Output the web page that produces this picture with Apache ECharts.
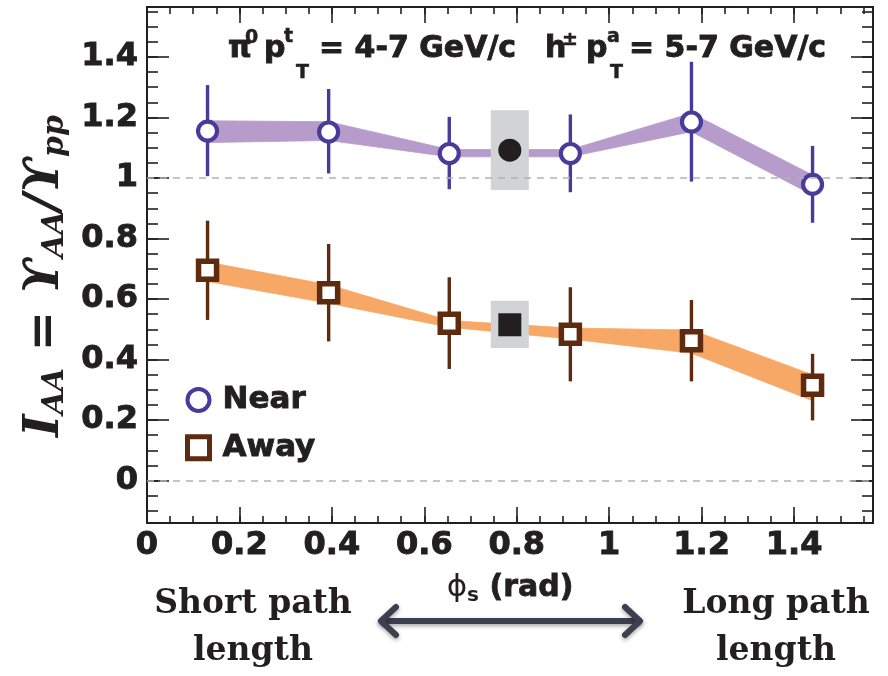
<!DOCTYPE html>
<html>
<head>
<meta charset="utf-8">
<script src="https://cdn.jsdelivr.net/npm/echarts@6/dist/echarts.min.js"></script>
<style>
  html, body { margin: 0; padding: 0; background: #fff; }
  #chart { width: 888px; height: 676px; }
</style>
</head>
<body>
<div id="chart"></div>
<script>
// Bin centres in phi_s (rad)
const phiBins = [0.131, 0.393, 0.654, 0.916, 1.178, 1.440];

// Near-side I_AA with statistical (bars) and systematic (band) limits
const nearIAA    = [1.155, 1.152, 1.081, 1.081, 1.185, 0.979];
const nearStatLo = [1.006, 1.015, 0.963, 0.953, 0.988, 0.852];
const nearStatHi = [1.307, 1.294, 1.202, 1.210, 1.384, 1.106];
const nearSysLo  = [1.117, 1.124, 1.070, 1.070, 1.153, 0.944];
const nearSysHi  = [1.189, 1.186, 1.094, 1.094, 1.214, 1.010];

// Away-side I_AA
const awayIAA    = [0.695, 0.621, 0.520, 0.484, 0.462, 0.315];
const awayStatLo = [0.531, 0.460, 0.369, 0.328, 0.328, 0.199];
const awayStatHi = [0.859, 0.782, 0.672, 0.639, 0.597, 0.419];
const awaySysLo  = [0.658, 0.586, 0.507, 0.468, 0.421, 0.264];
const awaySysHi  = [0.722, 0.647, 0.529, 0.504, 0.498, 0.350];

// Angle-integrated values, plotted at phi_s = pi/4
const inclPhi       = [0.785];
const inclNear      = [1.092];
const inclNearSysLo = [0.960];
const inclNearSysHi = [1.224];
const inclAway      = [0.515];
const inclAwaySysLo = [0.438];
const inclAwaySysHi = [0.594];

// Axis ticks
const xTickLabels = [0, 0.2, 0.4, 0.6, 0.8, 1, 1.2, 1.4];
const yTickLabels = [0, 0.2, 0.4, 0.6, 0.8, 1, 1.2, 1.4];
const refLines = [1, 0];

const X_MIN = 0, X_MAX = Math.PI / 2;
const Y_MIN = -0.14, Y_MAX = 1.565;

const xMinorTicks = [];
for (let k = 1; k <= 31; k++) xMinorTicks.push(+(k * 0.05).toFixed(2));
const yMinorTicks = [];
for (let k = -2; k <= 31; k++) yMinorTicks.push(+(k * 0.05).toFixed(2));

const INK = '#231f20';
const NEAR = '#4a3b9b';
const NEAR_BAND = '#b69bcb';
const AWAY = '#5e2a10';
const AWAY_BAND = '#f8a866';
const BOX = '#d1d3d4';
const TICK_FONT = 'DejaVu Sans';

function xAxisDef(position, ticks, len, withLabels) {
  return {
    type: 'value', position, min: X_MIN, max: X_MAX,
    axisLine: { show: true, onZero: false, lineStyle: { color: INK, width: 2 } },
    axisTick: { show: true, inside: true, length: len, customValues: ticks,
                lineStyle: { color: INK, width: 1.6 } },
    axisLabel: withLabels ? {
      show: true, customValues: ticks, margin: 7,
      fontFamily: TICK_FONT, fontWeight: 'bold', fontSize: 32, color: INK,
      textBorderColor: INK, textBorderWidth: 0.9
    } : { show: false },
    splitLine: { show: false }
  };
}
function yAxisDef(position, ticks, len, withLabels) {
  return {
    type: 'value', position, min: Y_MIN, max: Y_MAX,
    axisLine: { show: true, onZero: false, lineStyle: { color: INK, width: 2 } },
    axisTick: { show: true, inside: true, length: len, customValues: ticks,
                lineStyle: { color: INK, width: 1.6 } },
    axisLabel: withLabels ? {
      show: true, customValues: ticks, margin: 9,
      fontFamily: TICK_FONT, fontWeight: 'bold', fontSize: 32, color: INK,
      textBorderColor: INK, textBorderWidth: 0.9
    } : { show: false },
    splitLine: { show: false }
  };
}

function bandSeries(lo, hi, color, extra) {
  return Object.assign({
    type: 'custom', silent: true, xAxisIndex: 0, yAxisIndex: 0,
    data: phiBins.slice(0, -1).map((x, i) => [x, phiBins[i + 1], lo[i], hi[i], lo[i + 1], hi[i + 1]]),
    encode: { x: [0, 1], y: [2, 3, 4, 5] },
    renderItem(params, api) {
      const x0 = api.value(0), x1 = api.value(1);
      const pts = [
        api.coord([x0, api.value(2)]), api.coord([x1, api.value(4)]),
        api.coord([x1, api.value(5)]), api.coord([x0, api.value(3)])
      ];
      return { type: 'polygon', shape: { points: pts },
               style: { fill: color, stroke: color, lineWidth: 0.8 } };
    }
  }, extra || {});
}

function errorBarSeries(xs, lo, hi, color) {
  return {
    type: 'custom', silent: true, xAxisIndex: 0, yAxisIndex: 0,
    data: xs.map((x, i) => [x, lo[i], hi[i]]),
    encode: { x: 0, y: [1, 2] },
    renderItem(params, api) {
      const a = api.coord([api.value(0), api.value(1)]);
      const b = api.coord([api.value(0), api.value(2)]);
      return { type: 'line', shape: { x1: a[0], y1: a[1], x2: b[0], y2: b[1] },
               style: { stroke: color, lineWidth: 3.4 } };
    }
  };
}

function boxSeries(xs, lo, hi) {
  return {
    type: 'custom', silent: true, xAxisIndex: 0, yAxisIndex: 0,
    data: xs.map((x, i) => [x, lo[i], hi[i]]),
    encode: { x: 0, y: [1, 2] },
    renderItem(params, api) {
      const top = api.coord([api.value(0), api.value(2)]);
      const bot = api.coord([api.value(0), api.value(1)]);
      return { type: 'rect', shape: { x: top[0] - 19, y: top[1], width: 38, height: bot[1] - top[1] },
               style: { fill: BOX } };
    }
  };
}

function annoText(x, y, text, size) {
  return { type: 'text', x, y, silent: true,
           style: { text, align: 'left', verticalAlign: 'middle',
                    fontFamily: TICK_FONT, fontWeight: 'bold', fontSize: size, fill: INK,
                    stroke: INK, lineWidth: size > 24 ? 0.9 : 0.5 } };
}

const captionStyle = {
  align: 'center', verticalAlign: 'middle', lineHeight: 47,
  fontFamily: 'DejaVu Serif', fontWeight: 'bold', fontSize: 33, fill: INK
};
const arrowStyle = {
  stroke: '#3c3f4d', lineWidth: 6, lineCap: 'round', lineJoin: 'round', fill: null,
  shadowBlur: 4, shadowColor: 'rgba(0,0,0,0.35)', shadowOffsetY: 2
};

const option = {
  animation: false,
  backgroundColor: '#fff',
  grid: { left: 147, right: 15, top: 7, bottom: 153 },
  xAxis: [
    Object.assign(xAxisDef('bottom', xTickLabels, 16, true), {
      name: '{p|ϕ}{s|s}{r| (rad)}', nameLocation: 'middle', nameGap: 45,
      nameTextStyle: {
        rich: {
          p: { fontFamily: 'DejaVu Sans', fontSize: 31, color: INK, verticalAlign: 'middle', lineHeight: 34 },
          s: { fontFamily: TICK_FONT, fontWeight: 'bold', fontSize: 20, color: INK,
               verticalAlign: 'bottom', lineHeight: 20, padding: [18, 0, 0, 0] },
          r: { fontFamily: TICK_FONT, fontWeight: 'bold', fontSize: 30, color: INK, verticalAlign: 'middle',
               lineHeight: 34, textBorderColor: INK, textBorderWidth: 0.8 }
        }
      }
    }),
    xAxisDef('bottom', xMinorTicks, 7, false),
    xAxisDef('top', xTickLabels, 16, false),
    xAxisDef('top', xMinorTicks, 7, false)
  ],
  yAxis: [
    Object.assign(yAxisDef('left', yTickLabels, 22, true), {
      name: '{m|I}{s|AA}{m| = ϒ}{s|AA}{m|/ϒ}{s|pp}', nameLocation: 'middle', nameGap: 70, nameRotate: 90,
      nameTextStyle: {
        padding: [0, 22, 0, 0],
        rich: {
          m: { fontFamily: 'DejaVu Serif', fontStyle: 'italic', fontWeight: 'bold', fontSize: 48,
               color: INK, verticalAlign: 'middle', lineHeight: 48 },
          s: { fontFamily: 'DejaVu Serif', fontStyle: 'italic', fontWeight: 'bold', fontSize: 30,
               color: INK, verticalAlign: 'bottom', lineHeight: 30, padding: [26, 0, 0, 0] }
        }
      }
    }),
    yAxisDef('left', yMinorTicks, 11, false),
    yAxisDef('right', yTickLabels, 22, false),
    yAxisDef('right', yMinorTicks, 11, false)
  ],
  legend: {
    orient: 'vertical', left: 180, top: 379,
    itemWidth: 22, itemHeight: 22, itemGap: 16,
    textStyle: { fontFamily: TICK_FONT, fontWeight: 'bold', fontSize: 31, color: INK,
                 textBorderColor: INK, textBorderWidth: 0.9, padding: [0, 0, 0, 8] },
    data: [
      { name: 'Near', icon: 'circle', itemStyle: { color: '#fff', borderColor: NEAR, borderWidth: 4 } },
      { name: 'Away', icon: 'rect', itemStyle: { color: '#fff', borderColor: AWAY, borderWidth: 5 } }
    ]
  },
  series: [
    bandSeries(nearSysLo, nearSysHi, NEAR_BAND, {
      markLine: {
        silent: true, symbol: 'none', label: { show: false },
        lineStyle: { color: '#b3b3b3', type: [7, 6], width: 1.5 },
        data: refLines.map(v => ({ yAxis: v }))
      }
    }),
    bandSeries(awaySysLo, awaySysHi, AWAY_BAND),
    boxSeries(inclPhi, inclNearSysLo, inclNearSysHi),
    boxSeries(inclPhi, inclAwaySysLo, inclAwaySysHi),
    errorBarSeries(phiBins, nearStatLo, nearStatHi, NEAR),
    errorBarSeries(phiBins, awayStatLo, awayStatHi, AWAY),
    {
      name: 'Near', type: 'scatter', symbol: 'circle', symbolSize: 19,
      itemStyle: { color: '#fff', borderColor: NEAR, borderWidth: 4.2, opacity: 1 },
      data: phiBins.map((x, i) => [x, nearIAA[i]]), z: 4
    },
    {
      name: 'Away', type: 'scatter', symbol: 'rect', symbolSize: 18,
      itemStyle: { color: '#fff', borderColor: AWAY, borderWidth: 5.5, opacity: 1 },
      data: phiBins.map((x, i) => [x, awayIAA[i]]), z: 4
    },
    {
      type: 'scatter', symbol: 'circle', symbolSize: 23, silent: true,
      itemStyle: { color: INK, opacity: 1 },
      data: inclPhi.map((x, i) => [x, inclNear[i]]), z: 4
    },
    {
      type: 'scatter', symbol: 'rect', symbolSize: 23, silent: true,
      itemStyle: { color: INK, opacity: 1 },
      data: inclPhi.map((x, i) => [x, inclAway[i]]), z: 4
    }
  ],
  graphic: [
    // kinematic selection, top of the frame
    annoText(228, 49, 'π', 30),
    annoText(245, 38, '0', 19),
    annoText(264, 49, 'p', 30),
    annoText(284, 37, 't', 19),
    annoText(296, 73, 'T', 19),
    annoText(319, 49, '= 4-7 GeV/c', 30),
    annoText(545, 49, 'h', 30),
    annoText(562, 40, '±', 19),
    annoText(586, 49, 'p', 30),
    annoText(607, 37, 'a', 19),
    annoText(610, 73, 'T', 19),
    annoText(629, 49, '= 5-7 GeV/c', 30),
    // path-length captions below the axis
    { type: 'text', x: 253, y: 628, silent: true, style: Object.assign({ text: 'Short path\nlength' }, captionStyle) },
    { type: 'text', x: 776, y: 628, silent: true, style: Object.assign({ text: 'Long path\nlength' }, captionStyle) },
    // double-headed arrow
    { type: 'group', silent: true, children: [
      { type: 'line', shape: { x1: 382, y1: 621, x2: 639, y2: 621 }, style: arrowStyle },
      { type: 'polyline', shape: { points: [[396, 607], [381, 621], [396, 635]] }, style: arrowStyle },
      { type: 'polyline', shape: { points: [[625, 607], [640, 621], [625, 635]] }, style: arrowStyle }
    ] }
  ]
};

const chart = echarts.init(document.getElementById('chart'));
chart.setOption(option);
</script>
</body>
</html>
